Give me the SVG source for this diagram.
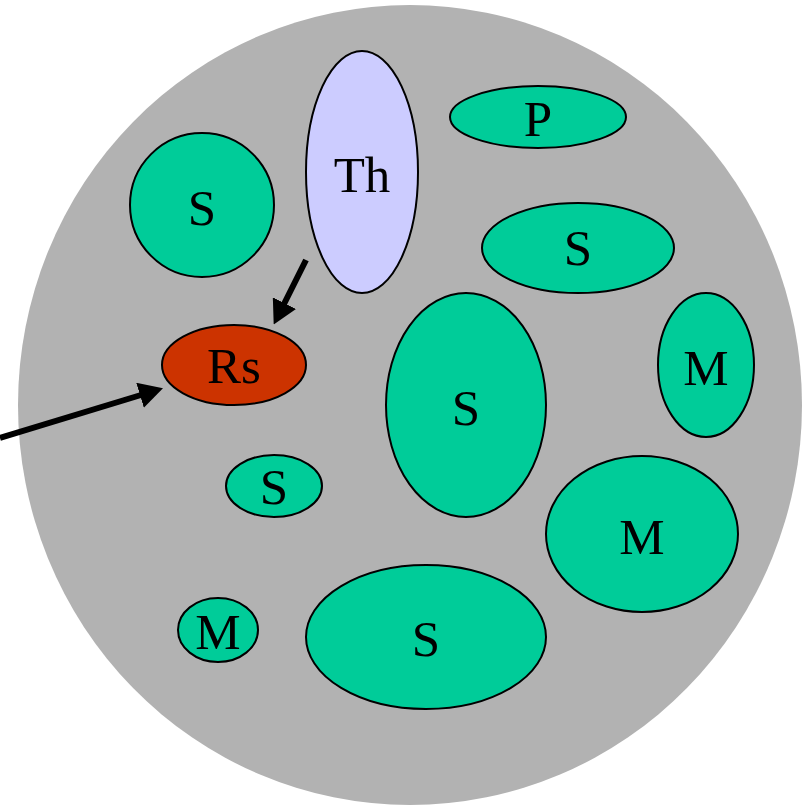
<svg xmlns="http://www.w3.org/2000/svg" width="808" height="806" viewBox="0 0 808 806">
<style>
.n{stroke:#000;stroke-width:2}
.g{fill:#00CC99}
.t{font-family:"Liberation Serif","Times New Roman",serif;font-size:51px;text-anchor:middle;fill:#000}
.c{stroke:#000;stroke-width:6;fill:none}
</style>
<defs>
<marker id="ah" markerUnits="userSpaceOnUse" markerWidth="24" markerHeight="26" refX="1" refY="13" orient="auto" viewBox="0 0 24 26">
<polygon points="0,0 24,13 0,26" fill="#000"/>
</marker>
</defs>
<rect width="808" height="806" fill="#fff"/>
<ellipse id="cell" cx="410" cy="405" rx="392" ry="400" fill="#B2B2B2"/>
<g id="th"><ellipse class="n" cx="362" cy="172" rx="56" ry="121" fill="#CCCCFF"/><text class="t" x="362" y="192">Th</text></g>
<g id="p"><ellipse class="n g" cx="538" cy="117" rx="88" ry="31"/><text class="t" x="538" y="136">P</text></g>
<g id="s1"><ellipse class="n g" cx="202" cy="205" rx="72" ry="72"/><text class="t" x="202" y="225">S</text></g>
<g id="s2"><ellipse class="n g" cx="578" cy="248" rx="96" ry="45"/><text class="t" x="578" y="265">S</text></g>
<g id="m1"><ellipse class="n g" cx="706" cy="365" rx="48" ry="72"/><text class="t" x="706" y="385">M</text></g>
<g id="rs"><ellipse class="n" cx="234" cy="365" rx="72" ry="40" fill="#CC3300"/><text class="t" x="234" y="383">Rs</text></g>
<g id="s3"><ellipse class="n g" cx="466" cy="405" rx="80" ry="112"/><text class="t" x="466" y="425">S</text></g>
<g id="s4"><ellipse class="n g" cx="274" cy="486" rx="48" ry="31"/><text class="t" x="274" y="504">S</text></g>
<g id="m2"><ellipse class="n g" cx="642" cy="534" rx="96" ry="78"/><text class="t" x="642" y="554">M</text></g>
<g id="m3"><ellipse class="n g" cx="218" cy="630" rx="40" ry="32"/><text class="t" x="218" y="649">M</text></g>
<g id="s5"><ellipse class="n g" cx="426" cy="637" rx="120" ry="72"/><text class="t" x="426" y="656">S</text></g>
<g id="connectors">
<line class="c" x1="306" y1="260" x2="284" y2="304" marker-end="url(#ah)"/>
<line class="c" x1="0" y1="438" x2="141" y2="395" marker-end="url(#ah)"/>
</g>
</svg>
